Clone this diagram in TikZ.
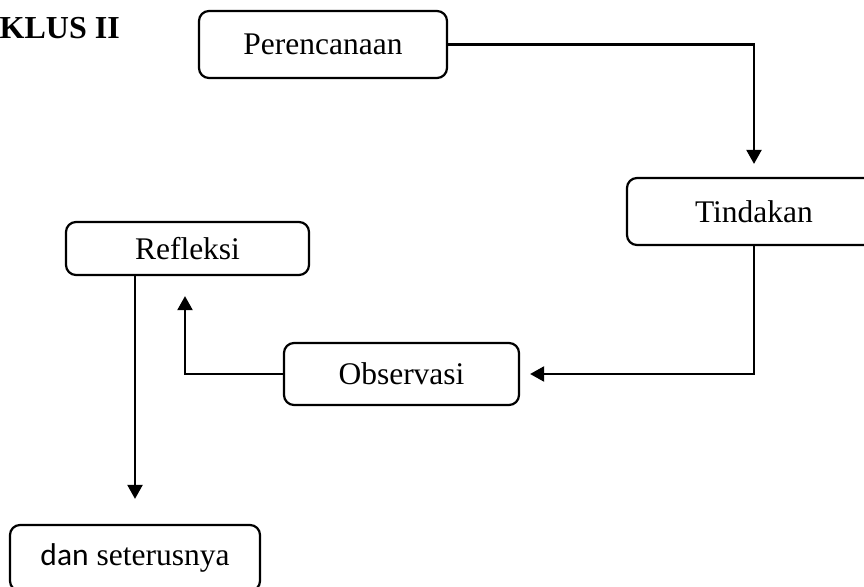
\documentclass[tikz,border=0pt]{standalone}
\usepackage{fontspec}
\setmainfont{Liberation Serif}
\newfontfamily\sansdan{Carlito}
\usetikzlibrary{arrows.meta}
\usetikzlibrary{calc}
\tikzset{>={Triangle[length=14pt,width=15pt]}}
\tikzstyle{stage}=[draw,rounded corners=10pt,line width=2.2pt,inner sep=0pt]
\tikzset{
  flow/.style={line width=2.2pt,->,shorten >=#1},
  flow/.default=12pt}

\begin{document}
\begin{tikzpicture}[x=1pt,y=-1pt,font=\fontsize{31.5}{36}\selectfont]
  \useasboundingbox (0,0) rectangle (864,586);

  % TITLE (cut at the left edge)
  \node[font=\fontsize{32}{36}\selectfont\bfseries,anchor=base east,inner sep=0pt] (title) at (120,39) {SIKLUS II};

  % STAGES
  \node[stage,minimum width=248,minimum height=67] (plan) at (323,44.5) {Perencanaan};
  \node[stage,minimum width=254,minimum height=67] (act) at (754,211.5) {Tindakan};
  \node[stage,minimum width=235,minimum height=62] (obs) at (401.5,374) {Observasi};
  \node[stage,minimum width=243,minimum height=53] (refl) at (187.5,248.5) {Refleksi};
  \node[stage,minimum width=250,minimum height=66] (next) at (135,558) {{\sansdan dan} seterusnya};

  % LINES
  \draw[flow=13pt] (plan.east) -| (act.north);
  \draw[flow=10pt] (act.south) |- (obs.east);
  \draw[flow=20pt] (obs.west) -| ($(refl.south)+(-2.5,0)$);
  \draw[flow=25pt] (next.north |- refl.south) -- (next.north);

\end{tikzpicture}
\end{document}
